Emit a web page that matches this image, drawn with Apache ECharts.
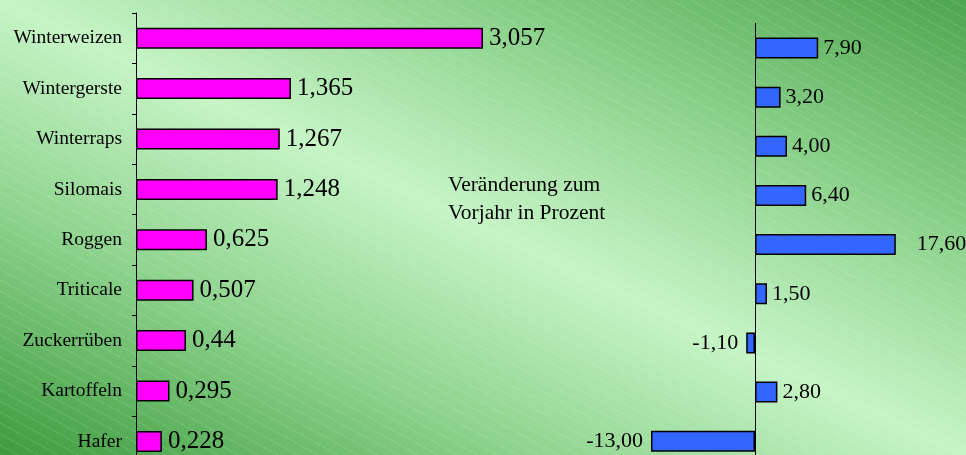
<!DOCTYPE html>
<html><head><meta charset="utf-8">
<script src="https://cdn.jsdelivr.net/npm/echarts@6/dist/echarts.min.js"></script>
<style>html,body{margin:0;padding:0;background:#fff;}#c{width:966px;height:455px;}</style>
</head><body><div id="c"></div>
<script>
const categories = ['Winterweizen','Wintergerste','Winterraps','Silomais','Roggen','Triticale','Zuckerrüben','Kartoffeln','Hafer'];
const anbauValues = [3.057,1.365,1.267,1.248,0.625,0.507,0.44,0.295,0.228];
const changeValues = [7.90,3.20,4.00,6.40,17.60,1.50,-1.10,2.80,-13.00];
const noteLines = ['Veränderung zum','Vorjahr in Prozent'];

const FONT = 'Liberation Serif';

// diagonal stripe texture
const stripes = document.createElement('canvas');
stripes.width = 966; stripes.height = 455;
(function(){
  const ctx = stripes.getContext('2d');
  ctx.strokeStyle = 'rgba(255,255,255,0.22)';
  ctx.lineWidth = 1;
  ctx.setLineDash([2, 1]);
  const s = 0.55, gap = 11;
  for (let k = -600; k < 500; k += gap) {
    ctx.beginPath();
    ctx.moveTo(0, k);
    ctx.lineTo(966, k + s*966);
    ctx.stroke();
  }
})();

const chart = echarts.init(document.getElementById('c'), null, {renderer:'canvas'});

const hiddenX = {show:true, axisLine:{show:false}, axisTick:{show:false}, axisLabel:{show:false}, splitLine:{show:false}};
const maxChange = Math.max.apply(null, changeValues);

chart.setOption({
  animation:false,
  backgroundColor: new echarts.graphic.LinearGradient(307.6, 600.1, 658.4, -145.1, [
    {offset:0, color:'#3d9b3d'},
    {offset:0.28, color:'#8fd48f'},
    {offset:0.5, color:'#c6f4c6'},
    {offset:0.72, color:'#8fd48f'},
    {offset:1, color:'#4ea64e'}
  ], true),
  graphic:[
    {type:'image', left:0, top:0, z:-10, silent:true, style:{image:stripes, width:966, height:455}},
    {type:'text', left:448, top:171, z:10, style:{text:noteLines.join('\n'), font:'21.5px "Liberation Serif"', fill:'#000', lineHeight:28}}
  ],
  grid:[
    {left:136, top:13, width:454, height:453.6, outerBoundsMode:'none', containLabel:false},
    {left:595, top:23.4, width:320, height:442.4, outerBoundsMode:'none', containLabel:false}
  ],
  xAxis:[
    Object.assign({type:'value', gridIndex:0, min:0, max:4}, hiddenX),
    Object.assign({type:'value', gridIndex:1, min:-20, max:20}, hiddenX)
  ],
  yAxis:[
    {type:'category', gridIndex:0, data:categories, inverse:true,
     axisLine:{show:true, lineStyle:{color:'#000', width:1}},
     axisTick:{show:true, length:4, lineStyle:{color:'#000'}},
     axisLabel:{color:'#000', fontFamily:FONT, fontSize:19.5, margin:14}},
    {type:'category', gridIndex:1, data:categories, inverse:true,
     axisLine:{show:true, onZero:true, lineStyle:{color:'#000', width:1}},
     axisTick:{show:false}, axisLabel:{show:false}}
  ],
  series:[
    {type:'bar', xAxisIndex:0, yAxisIndex:0, data:anbauValues, barWidth:21,
     itemStyle:{color:'#ff00ff', borderColor:'#000', borderWidth:1.5},
     label:{show:true, position:'right', distance:6, color:'#000', fontFamily:FONT, fontSize:25,
       formatter:p => String(p.value).replace('.', ',')}},
    {type:'bar', xAxisIndex:1, yAxisIndex:1, barWidth:21,
     data: changeValues.map(v => ({value:v, label:{position: v < 0 ? 'left' : 'right', distance: v === maxChange ? 21 : (v < 0 ? 8 : 5)}})),
     itemStyle:{color:'#3366ff', borderColor:'#000', borderWidth:1.5},
     label:{show:true, color:'#000', fontFamily:FONT, fontSize:22,
       formatter:p => p.value.toFixed(2).replace('.', ',')}}
  ]
});
</script></body></html>
